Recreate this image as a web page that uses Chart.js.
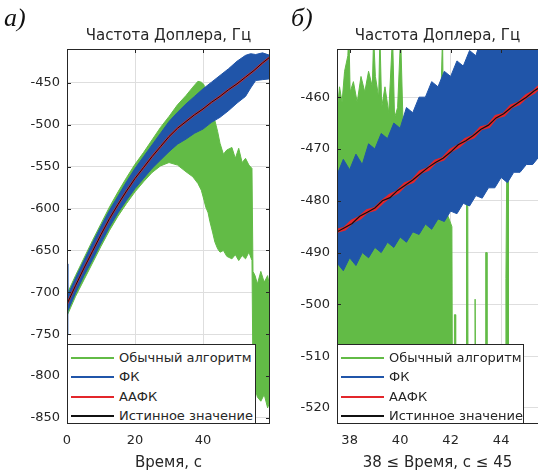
<!DOCTYPE html>
<html>
<head>
<meta charset="utf-8">
<script src="https://cdn.jsdelivr.net/npm/chart.js@4.4.1/dist/chart.umd.min.js"></script>
<style>
  body { margin: 0; background: #fff; }
  #wrap { position: relative; width: 538px; height: 474px; overflow: hidden; }
  canvas { position: absolute; top: 0; }
  .tag { position: absolute; font-family: 'Liberation Serif', serif; font-style: italic; font-size: 26px; color: #111; }
  .legend { position: absolute; top: 344px; height: 80px; box-sizing: border-box; border: 1px solid #262626; background: #fff;
            font-family: 'DejaVu Sans', sans-serif; font-size: 13px; color: #262626; }
  .legend .row { position: absolute; left: 0; height: 16px; line-height: 16px; white-space: nowrap; }
  .legend .smp { position: absolute; left: 3px; top: 7px; width: 43px; height: 2px; }
  .legend .txt { position: absolute; left: 51px; top: 0; }
</style>
</head>
<body>
<div id="wrap">
  <canvas id="chartL" width="272" height="474" style="left:0;width:272px;height:474px"></canvas>
  <canvas id="chartR" width="268" height="474" style="left:270px;width:268px;height:474px"></canvas>
  <div class="tag" style="left:4px;top:3px">а)</div>
  <div class="tag" style="left:291px;top:3px">б)</div>
  <div class="legend" id="legL" style="left:67px;width:189px"></div>
  <div class="legend" id="legR" style="left:337px;width:187px"></div>
</div>
<script>
// подписи серий (легенда)
const seriesNames = ['Обычный алгоритм', 'ФК', 'ААФК', 'Истинное значение'];
const seriesColors = ['#62bb46', '#2055a9', '#e3262b', '#111111'];

// ---- а) весь интервал ----
const xTicksL = [0, 20, 40];
const yTicksL = [-850, -800, -750, -700, -650, -600, -550, -500, -450];

const trueTimeL = [0, 2.5, 5, 7.5, 10, 12.5, 15, 17.5, 20, 22.5, 25, 27.5, 30, 32.5, 35, 37.5, 40, 42.5, 45, 47.5, 50, 52.5, 55, 57.5, 59.7];
const trueValL = [-714, -692, -671, -651, -631, -612, -595, -579, -564, -551, -538, -526, -514, -504, -496, -488, -481, -473, -466, -458, -451, -443, -435, -426, -419];
const aafkValL = [-714, -692, -671, -651, -631, -612, -595, -579, -564, -551, -538, -526, -514, -504, -496, -488, -481, -473, -466, -458, -451, -443, -435, -426, -419];

// ФК: верхняя и нижняя граница шумовой полосы
const blueTimeL = [0, 0.25, 2.5, 5, 7.5, 10, 12.5, 15, 17.5, 20, 22.5, 25, 27.5, 30, 32.5, 35, 37.5, 40, 42.5, 45, 47.5, 50, 52.5, 54, 55.5, 57.5, 59.7];
const blueHiL = [-666, -703, -683, -662, -641, -621, -602, -585, -568, -552, -538, -524, -510, -496, -485, -475, -466, -457, -449, -441, -433, -424, -417, -415, -416, -414, -417];
const blueLoL = [-750, -722, -701, -680, -661, -641, -622, -605, -590, -576, -564, -552, -542, -532, -523, -517, -510, -505, -497, -491, -483, -474, -466, -456, -447, -446, -445];

// Обычный алгоритм
const greenTimeL = [0, 2.5, 5, 7.5, 10, 12.5, 15, 17.5, 20, 22.5, 25, 27.5, 30, 32.5, 35, 37, 38.5, 39.5, 40.3, 40.8, 41.5, 42, 42.8, 43.5, 44.3, 45, 46, 47, 48.5, 49.5, 50.5, 51.5, 52.5, 53.5, 54.4, 54.7, 55.3, 56, 57, 58, 59, 59.7];
const greenHiL = [-702, -680, -659, -638, -618, -598, -580, -563, -547, -533, -518, -503, -490, -476, -465, -455, -448, -449, -452, -468, -462, -480, -486, -495, -508, -522, -535, -530, -527, -540, -528, -545, -540, -548, -552, -675, -680, -690, -675, -688, -680, -695];
const greenLoL = [-728, -705, -685, -665, -645, -626, -609, -594, -580, -568, -557, -549, -545, -548, -556, -562, -570, -578, -590, -598, -605, -615, -628, -640, -648, -652, -650, -657, -660, -655, -662, -656, -660, -652, -662, -805, -815, -825, -830, -822, -838, -830];

// ---- б) 38 <= t <= 45 ----
const xTicksR = [38, 40, 42, 44];
const yTicksR = [-520, -510, -500, -490, -480, -470, -460];

const trueTimeR = [37.5, 37.8, 38.1, 38.4, 38.7, 39.0, 39.3, 39.6, 39.9, 40.2, 40.5, 40.8, 41.1, 41.4, 41.7, 42.0, 42.3, 42.6, 42.9, 43.2, 43.5, 43.8, 44.1, 44.4, 44.7, 45.0, 45.3, 45.5];
const trueValR = [-486.0, -485.2, -484.4, -483.0, -482.2, -481.4, -480.0, -479.4, -478.0, -477.0, -476.0, -474.8, -473.6, -472.6, -471.8, -470.6, -469.2, -468.4, -467.4, -466.2, -465.4, -464.0, -463.2, -462.0, -461.0, -460.0, -458.8, -458.2];
const aafkValR = [-485.8, -485.4, -484.0, -483.3, -482.0, -481.6, -480.2, -479.0, -478.3, -476.8, -476.2, -474.5, -473.9, -472.4, -471.9, -470.3, -469.5, -468.2, -467.6, -466.0, -465.6, -463.8, -463.4, -461.8, -461.2, -459.8, -459.0, -458.0];

const blueTimeR = [37.5, 37.75, 38, 38.25, 38.5, 38.75, 39, 39.25, 39.5, 39.75, 40, 40.25, 40.5, 40.75, 41, 41.25, 41.5, 41.75, 42, 42.25, 42.5, 42.75, 43, 43.25, 43.5, 43.75, 44, 44.25, 44.5, 44.75, 45, 45.25, 45.5];
const blueHiR = [-475, -472, -474, -471, -473, -469, -470, -467, -468, -465, -466, -462, -463, -460, -460, -457, -458, -455, -456, -453, -454, -451, -452, -448, -449, -447, -448, -447, -448, -446, -447, -446, -445];
const blueLoR = [-492, -493.5, -491, -492.5, -490, -491, -489, -490, -488, -489, -487, -488, -486, -486.5, -484.5, -485.5, -483.5, -484, -482, -482.5, -480.5, -481, -479, -479.5, -477.5, -477.5, -475.5, -476.5, -474.5, -474.5, -473, -473, -471.5];

// Обычный алгоритм: верхняя граница, ниже - до низа графика
const greenTimeR = [37.5, 37.6, 37.7, 37.8, 37.93, 37.97, 38.02, 38.15, 38.3, 38.45, 38.6, 38.75, 38.9, 38.95, 39.02, 39.15, 39.2, 39.27, 39.4, 39.55, 39.7, 39.78, 39.9, 40.02, 40.12, 40.25, 40.4, 40.55, 40.7, 40.9, 41.1, 41.3, 41.5, 41.68, 41.75, 41.9, 42.05, 42.08, 42.14, 42.15, 42.19, 42.2, 42.62, 42.63, 42.68, 42.69, 42.96, 42.97, 43.0, 43.01, 43.38, 43.39, 43.43, 43.44, 44.18, 44.19, 44.22, 44.28, 44.29, 45.5];
const greenHiR = [-463, -458, -461, -455, -452, -447, -459, -457, -461, -456, -459, -455, -458, -448, -456, -460, -448, -462, -458, -463, -448, -464, -462, -448, -466, -463, -470, -468, -474, -476, -479, -478, -481, -448, -481, -483, -485, -530, -530, -502, -502, -530, -530, -479, -479, -530, -530, -499, -499, -530, -530, -490, -490, -530, -530, -495, -475, -475, -530, -530];

const FONT = "'DejaVu Sans', sans-serif";
const INK = '#262626';

function toXY(ts, vs) {
  return ts.map((t, i) => ({ x: t, y: vs[i] }));
}

// рамка и внутренние засечки как в MATLAB
const framePlugin = {
  id: 'frame',
  afterDatasetsDraw(chart, args, opts) {
    const { ctx, chartArea: a } = chart;
    const sx = chart.scales.x, sy = chart.scales.y;
    ctx.save();
    ctx.strokeStyle = INK;
    ctx.lineWidth = 1;
    ctx.beginPath();
    ctx.moveTo(a.left + 0.5, a.top + 0.5);
    ctx.lineTo(a.left + 0.5, a.bottom - 0.5);
    ctx.lineTo(a.right, a.bottom - 0.5);
    ctx.moveTo(a.left, a.top + 0.5);
    ctx.lineTo(a.right, a.top + 0.5);
    if (opts.right) {
      ctx.moveTo(a.right - 0.5, a.top);
      ctx.lineTo(a.right - 0.5, a.bottom);
    }
    sy.ticks.forEach(t => {
      const y = Math.round(sy.getPixelForValue(t.value)) + 0.5;
      ctx.moveTo(a.left, y); ctx.lineTo(a.left + 4, y);
      if (opts.right) { ctx.moveTo(a.right, y); ctx.lineTo(a.right - 4, y); }
    });
    sx.ticks.forEach(t => {
      const x = Math.round(sx.getPixelForValue(t.value)) + 0.5;
      ctx.moveTo(x, a.bottom); ctx.lineTo(x, a.bottom - 4);
      ctx.moveTo(x, a.top); ctx.lineTo(x, a.top + 4);
    });
    ctx.stroke();
    ctx.restore();
  }
};

function line(data, color, width, fill) {
  return {
    data: data,
    borderColor: color,
    backgroundColor: color,
    borderWidth: width,
    fill: fill === undefined ? false : fill,
    pointRadius: 0,
    tension: 0,
    clip: 0
  };
}

function makeChart(id, o) {
  return new Chart(document.getElementById(id), {
    type: 'line',
    data: { datasets: o.datasets },
    options: {
      responsive: false,
      animation: false,
      events: [],
      layout: { padding: { top: 27, right: o.padRight, bottom: 0, left: 0 } },
      plugins: {
        legend: { display: false },
        tooltip: { enabled: false },
        title: {
          display: true,
          text: 'Частота Доплера, Гц',
          fullSize: false,
          color: INK,
          font: { family: FONT, size: 15, weight: 'normal' },
          padding: { top: 0, bottom: 4 }
        },
        frame: { right: o.rightBorder }
      },
      scales: {
        x: {
          type: 'linear',
          min: o.xMin, max: o.xMax,
          afterBuildTicks: ax => { ax.ticks = o.xTicks.map(v => ({ value: v })); },
          afterFit: ax => { ax.height = 50; },
          grid: { color: '#dedede', drawTicks: false },
          border: { display: false },
          ticks: { color: INK, font: { family: FONT, size: 13 }, padding: 9, maxRotation: 0, callback: v => String(v) },
          title: { display: true, text: o.xTitle, color: INK, font: { family: FONT, size: 15 }, padding: { top: 0, bottom: 2 } }
        },
        y: {
          type: 'linear',
          min: o.yMin, max: o.yMax,
          afterBuildTicks: ax => { ax.ticks = o.yTicks.map(v => ({ value: v })); },
          afterFit: ax => { ax.width = 67; },
          grid: { color: '#dedede', drawTicks: false },
          border: { display: false },
          ticks: { color: INK, font: { family: FONT, size: 13 }, padding: 7, callback: v => String(v) }
        }
      }
    },
    plugins: [framePlugin]
  });
}

const [cGreen, cBlue, cRed, cBlack] = seriesColors;

makeChart('chartL', {
  xMin: 0, xMax: 59.7, yMin: -857.2, yMax: -409.4,
  xTicks: xTicksL, yTicks: yTicksL, xTitle: 'Время, с',
  padRight: 2, rightBorder: true,
  datasets: [
    line(toXY(trueTimeL, trueValL), cBlack, 1),
    line(toXY(trueTimeL, aafkValL), cRed, 2),
    line(toXY(blueTimeL, blueHiL), cBlue, 1, '+1'),
    line(toXY(blueTimeL, blueLoL), cBlue, 1),
    line(toXY(greenTimeL, greenHiL), cGreen, 1, '+1'),
    line(toXY(greenTimeL, greenLoL), cGreen, 1)
  ]
});

makeChart('chartR', {
  xMin: 37.5, xMax: 45.46, yMin: -523.1, yMax: -450.7,
  xTicks: xTicksR, yTicks: yTicksR, xTitle: '38 ≤ Время, с ≤ 45',
  padRight: 0, rightBorder: false,
  datasets: [
    line(toXY(trueTimeR, trueValR), cBlack, 1.2),
    line(toXY(trueTimeR, aafkValR), cRed, 4),
    line(toXY(blueTimeR, blueHiR), cBlue, 1, '+1'),
    line(toXY(blueTimeR, blueLoR), cBlue, 1),
    line(toXY(greenTimeR, greenHiR), cGreen, 1, 'start')
  ]
});

// легенды внутри графиков
function buildLegend(id) {
  const box = document.getElementById(id);
  const rowTops = [5, 24, 44, 63];
  seriesNames.forEach((name, i) => {
    const row = document.createElement('div');
    row.className = 'row';
    row.style.top = rowTops[i] + 'px';
    const smp = document.createElement('div');
    smp.className = 'smp';
    smp.style.background = seriesColors[i];
    const txt = document.createElement('span');
    txt.className = 'txt';
    txt.textContent = name;
    row.appendChild(smp);
    row.appendChild(txt);
    box.appendChild(row);
  });
}
buildLegend('legL');
buildLegend('legR');
</script>
</body>
</html>
